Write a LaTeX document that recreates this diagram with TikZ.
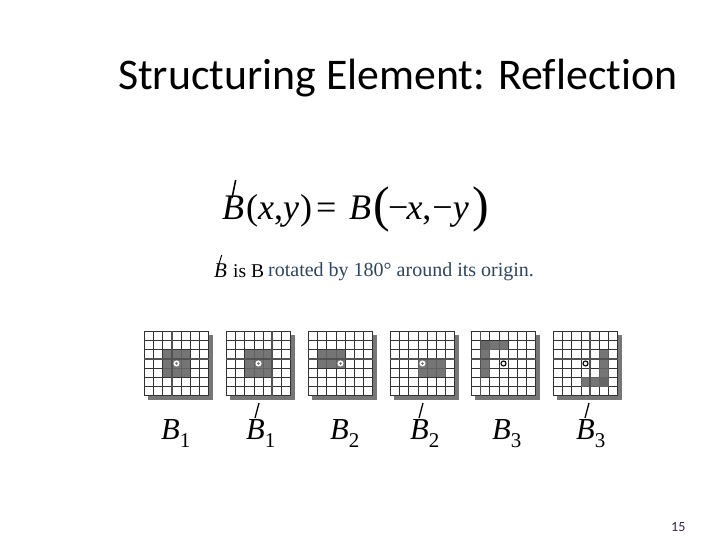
\documentclass[tikz,border=0pt]{standalone}
\usepackage{fontspec}
\setmainfont{Liberation Serif}
\newfontfamily\titlefont[Ligatures=NoCommon]{Carlito}
\definecolor{capblue}{HTML}{2E4460}
\definecolor{pgcol}{HTML}{3A2050}
\definecolor{cellgray}{HTML}{666666}
\definecolor{shadowgray}{HTML}{777777}
\definecolor{gridline}{HTML}{333333}
\tikzset{x=1pt,y=-1pt,
  gridthin/.style={draw=gridline,line width=0.7pt},
  gridthick/.style={draw=gridline!85,line width=1.7pt},
  eq/.style={inner sep=0pt,font=\itshape,anchor=base west},
  plain/.style={inner sep=0pt,anchor=base west},
  hatmark/.style={line width=1.3pt,draw=black}}
\newcommand{\gridbase}[2]{%
  \fill[shadowgray] (0.45,0.45) rectangle (7.45,7.45);
  \fill[white] (0,0) rectangle (7,7);
  \foreach \k in {0,...,7} {\draw[gridthin] (\k,0) -- (\k,7); \draw[gridthin] (0,\k) -- (7,\k);}
  \foreach \a/\b/\c/\d in {#2} {\fill[cellgray,opacity=0.9] (\a,\b) rectangle (\c,\d);}
  \draw[gridthick] (0,3) -- (7,3);
  \foreach \k in {#1} {\draw[gridthick] (\k,0) -- (\k,7);}
}
% gray-dot origin on a white ring
\newcommand{\sgrid}[4]{%
\begin{scope}[shift={(#1,#2)},x=9.2pt,y=-9.2pt]
  \gridbase{#3}{#4}
  \fill[white] (3.5,3.5) circle (0.33);
  \fill[gridline!70] (3.5,3.5) circle (0.14);
\end{scope}}
% black-ring origin
\newcommand{\ogrid}[4]{%
\begin{scope}[shift={(#1,#2)},x=9.2pt,y=-9.2pt]
  \gridbase{#3}{#4}
  \draw[fill=white,draw=black,line width=1.1pt] (3.5,3.5) circle (0.27);
\end{scope}}
\newcommand{\lab}[1]{\fontsize{30.5}{30.5}\selectfont\itshape B\raisebox{-8pt}{\fontsize{21}{21}\selectfont\upshape #1}}
\begin{document}
\begin{tikzpicture}
\useasboundingbox (0,0) rectangle (720,540);
\fill[white] (0,0) rectangle (720,540);
\node[plain] (title) at (118,90) {\titlefont\fontsize{43.8}{43.8}\selectfont Structuring Element: Reflection};
% equation
\node[eq] (eqa) at (222,220) {\fontsize{36}{36}\selectfont B};
\node[plain] (eqb) at (246,220) {\fontsize{36}{36}\selectfont (\textit{x},\textit{y}\kern1pt)\kern4pt=};
\node[eq] (eqc) at (349,220) {\fontsize{36}{36}\selectfont B};
\node[plain] (eqd) at (373,222) {\fontsize{50}{50}\selectfont (};
\node[plain] (eqe) at (388,220) {\fontsize{36}{36}\selectfont −\kern-2pt\textit{x},\kern1pt−\textit{y}};
\node[plain] (eqf) at (472,222) {\fontsize{50}{50}\selectfont )};
\draw[hatmark,line width=1.6pt] (235.7,180) -- (232,198);
% caption
\node[eq] (capa) at (214,277) {\fontsize{21}{21}\selectfont B};
\draw[hatmark,line width=1pt] (221.7,255) -- (218,267);
\node[plain] (capb) at (233,277) {\fontsize{19.5}{19.5}\selectfont is B};
\node[plain,text=capblue] (capc) at (268,276) {\fontsize{20}{20}\selectfont rotated by 180° around its origin.};
% grids
\sgrid{144.3}{331.3}{3}{2/2/5/5}
\sgrid{226.3}{331.3}{5}{2/2/5/5}
\sgrid{308.3}{331.3}{}{1/2/4/4}
\sgrid{390.3}{331.3}{}{3/3/6/5}
\ogrid{471.3}{331.3}{1}{1/1/4/2,1/1/2/5}
\ogrid{553.3}{331.3}{4}{5/2/6/6,3/5/6/6}
% labels
\node[plain] (b1) at (161,439) {\lab{1}};
\node[plain] (b2) at (246,439) {\lab{1}};
\draw[hatmark] (259,403) -- (255,418);
\node[plain] (b3) at (330,439) {\lab{2}};
\node[plain] (b4) at (410,439) {\lab{2}};
\draw[hatmark] (423,403) -- (419,418);
\node[plain] (b5) at (492,439) {\lab{3}};
\node[plain] (b6) at (576,439) {\lab{3}};
\draw[hatmark] (589,403) -- (585,418);
\node[plain,text=pgcol] (pg) at (671,531) {\titlefont\fontsize{14}{14}\selectfont 15};
\end{tikzpicture}
\end{document}
